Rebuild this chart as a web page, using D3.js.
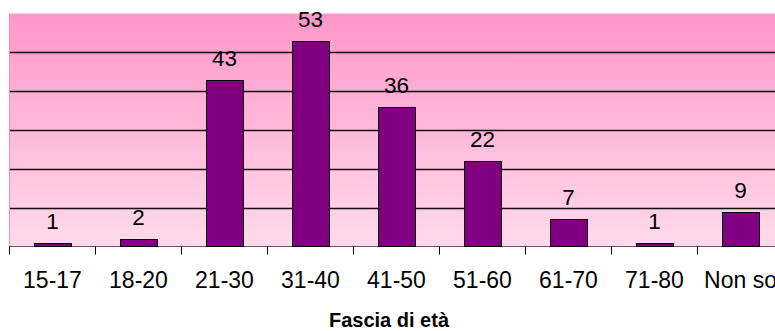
<!DOCTYPE html>
<html>
<head>
<meta charset="utf-8">
<script src="https://cdn.jsdelivr.net/npm/d3@7"></script>
<style>
  html, body { margin: 0; padding: 0; background: #fff; overflow: hidden; }
  svg { display: block; font-family: "Liberation Sans", Arial, sans-serif; }
</style>
</head>
<body>
<svg id="chart" width="775" height="331"></svg>
<script>
// Age bands and respondent counts
const categories = ["15-17", "18-20", "21-30", "31-40", "41-50", "51-60", "61-70", "71-80", "Non so"];
const counts = [1, 2, 43, 53, 36, 22, 7, 1, 9];
const yTicks = [0, 10, 20, 30, 40, 50];
const axisTitle = "Fascia di età";

const svg = d3.select("#chart");
const plot = { left: 9.5, top: 13.5, step: 86, bottom: 246.5 };
const plotRight = plot.left + plot.step * categories.length;

const x = d3.scaleBand()
  .domain(categories)
  .range([plot.left, plotRight])
  .paddingInner(0.57)
  .paddingOuter(0.285);

const y = d3.scaleLinear().domain([0, 60]).range([plot.bottom, plot.top]);

// Pink vertical gradient behind the plot
const defs = svg.append("defs");
const grad = defs.append("linearGradient")
  .attr("id", "bg").attr("x1", 0).attr("y1", 0).attr("x2", 0).attr("y2", 1);
grad.append("stop").attr("offset", "0%").attr("stop-color", "#ff97c9");
grad.append("stop").attr("offset", "100%").attr("stop-color", "#ffdaec");

svg.append("rect")
  .attr("x", plot.left).attr("y", plot.top)
  .attr("width", plotRight - plot.left).attr("height", plot.bottom - plot.top)
  .attr("fill", "url(#bg)");

// left edge of the plot area
svg.append("line")
  .attr("x1", plot.left).attr("x2", plot.left)
  .attr("y1", plot.top).attr("y2", plot.bottom)
  .attr("stroke", "#f48cbc").attr("stroke-width", 1);

// Horizontal gridlines
svg.append("g")
  .selectAll("line")
  .data(yTicks.filter(d => d > 0))
  .join("line")
  .attr("x1", plot.left + 0.5).attr("x2", plotRight)
  .attr("y1", d => Math.round(y(d)) + 0.5).attr("y2", d => Math.round(y(d)) + 0.5)
  .attr("stroke", "#1a0a12").attr("stroke-width", 1.3);

// Category axis with ticks between bands
const xAxis = svg.append("g")
  .attr("transform", `translate(0,${plot.bottom})`);
xAxis.append("line")
  .attr("x1", plot.left).attr("x2", plotRight)
  .attr("y1", 0).attr("y2", 0)
  .attr("stroke", "#6e5060").attr("stroke-width", 1);
xAxis.selectAll("line.tick")
  .data(d3.range(categories.length + 1))
  .join("line")
  .attr("class", "tick")
  .attr("x1", i => plot.left + i * plot.step).attr("x2", i => plot.left + i * plot.step)
  .attr("y1", 0).attr("y2", 8)
  .attr("stroke", "#000").attr("stroke-width", 1);

xAxis.selectAll("text")
  .data(categories)
  .join("text")
  .attr("x", d => x(d) + x.bandwidth() / 2)
  .attr("y", 41.5)
  .attr("text-anchor", "middle")
  .attr("font-size", 23)
  .attr("fill", "#000")
  .text(d => d);

// Bars
svg.append("g")
  .selectAll("rect")
  .data(categories.map((c, i) => ({ c, v: counts[i] })))
  .join("rect")
  .attr("x", d => Math.round(x(d.c)) + 0.5)
  .attr("y", d => Math.round(y(d.v)) + 0.5)
  .attr("width", x.bandwidth())
  .attr("height", d => plot.bottom - Math.round(y(d.v)) - 0.5)
  .attr("fill", "#800080")
  .attr("stroke", "#000").attr("stroke-width", 1);

// Value labels above bars
svg.append("g")
  .selectAll("text")
  .data(categories.map((c, i) => ({ c, v: counts[i] })))
  .join("text")
  .attr("x", d => x(d.c) + x.bandwidth() / 2)
  .attr("y", d => y(d.v) - 14)
  .attr("text-anchor", "middle")
  .attr("font-size", 22.5)
  .attr("fill", "#000")
  .text(d => d.v);

// Axis title
svg.append("text")
  .attr("x", 389)
  .attr("y", 326.5)
  .attr("text-anchor", "middle")
  .attr("font-size", 20)
  .attr("font-weight", "bold")
  .attr("fill", "#000")
  .text(axisTitle);
</script>
</body>
</html>
